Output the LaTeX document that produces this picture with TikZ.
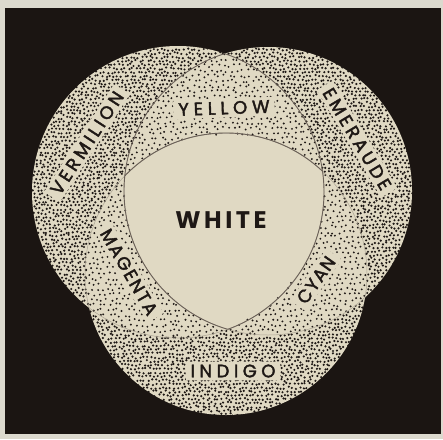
\documentclass[tikz,border=0pt]{standalone}
\usepackage{fontspec}
\setmainfont{Poppins}
\definecolor{frame}{HTML}{DCD9CE}
\definecolor{night}{HTML}{1B1512}
\definecolor{paper}{HTML}{E0D9C3}
\definecolor{ink}{HTML}{1E1815}
\definecolor{edge}{HTML}{6B6158}
\tikzset{
  lab/.style={font=\fontsize{18}{18}\selectfont, text=ink, fill=paper,
    inner xsep=5pt, inner ysep=3pt, rounded corners=2pt},
  bigtext/.style={font=\fontsize{24}{24}\selectfont\bfseries, text=ink},
  strongline/.style={draw=edge, line width=0.9pt},
  faintline/.style={draw=paper!55!edge, line width=0.5pt},
  dotmark/.style={fill=ink},
}
\newcommand\spaced[2]{{\addfontfeature{LetterSpace=#1,FakeBold=2.2}#2}}
\newcommand\spacedb[2]{{\addfontfeature{LetterSpace=#1}#2}}
\begin{document}
\begin{tikzpicture}[x=1pt,y=-1pt]
\useasboundingbox (0,0) rectangle (443,439);
\fill[frame] (0,0) rectangle (443,439);
\fill[night] (5,8) rectangle (441,434);
\coordinate (A) at (178,192);
\coordinate (B) at (268,191);
\coordinate (C) at (226,274);
\fill[paper] (A) circle[radius=146pt];
\fill[paper] (B) circle[radius=144pt];
\fill[paper] (C) circle[radius=141pt];
\pgfmathsetseed{7}
% dense stipple: regions covered by exactly one circle
\foreach \j in {0,...,99}{
  \pgfmathsetmacro\gy{42+3.8*\j}
  \pgfmathsetmacro\ra{2.1316-((\gy-192)/100)^2}
  \pgfmathsetmacro\rb{2.0736-((\gy-191)/100)^2}
  \pgfmathsetmacro\rc{1.9881-((\gy-274)/100)^2}
  \pgfmathsetmacro\sh{mod(\j,2)*1.9}
  \foreach \i in {0,...,104}{
    \pgfmathsetmacro\gx{28+3.8*\i+\sh}
    \pgfmathtruncatemacro\cnt{(((\gx-178)/100)^2<\ra)+(((\gx-268)/100)^2<\rb)+(((\gx-226)/100)^2<\rc)}
    \ifnum\cnt=1
      \fill[dotmark] (\gx+1.2*rand,\gy+1.2*rand) circle[radius=1.2pt];
    \fi
  }
}
% sparse stipple: regions covered by exactly two circles
\foreach \j in {0,...,57}{
  \pgfmathsetmacro\gy{50+5.2*\j}
  \pgfmathsetmacro\ra{2.1316-((\gy-192)/100)^2}
  \pgfmathsetmacro\rb{2.0736-((\gy-191)/100)^2}
  \pgfmathsetmacro\rc{1.9881-((\gy-274)/100)^2}
  \pgfmathsetmacro\sh{mod(\j,2)*2.6}
  \foreach \i in {0,...,58}{
    \pgfmathsetmacro\gx{76+5.2*\i+\sh}
    \pgfmathtruncatemacro\cnt{(((\gx-178)/100)^2<\ra)+(((\gx-268)/100)^2<\rb)+(((\gx-226)/100)^2<\rc)}
    \ifnum\cnt=2
      \fill[dotmark] (\gx+1.6*rand,\gy+1.6*rand) circle[radius=1.05pt];
    \fi
  }
}
% faint boundaries
\begin{scope}
  \clip (C) circle[radius=141pt];
  \draw[faintline] (A) circle[radius=146pt];
  \draw[faintline] (B) circle[radius=144pt];
\end{scope}
\begin{scope}
  \clip (A) circle[radius=146pt];
  \draw[faintline] (C) circle[radius=141pt];
\end{scope}
\begin{scope}
  \clip (B) circle[radius=144pt];
  \draw[faintline] (C) circle[radius=141pt];
\end{scope}
% strong boundaries
\begin{scope}
  \clip (B) circle[radius=144pt];
  \draw[strongline] (A) circle[radius=146pt];
\end{scope}
\begin{scope}
  \clip (A) circle[radius=146pt];
  \draw[strongline] (B) circle[radius=144pt];
\end{scope}
\begin{scope}
  \clip (A) circle[radius=146pt];
  \clip (B) circle[radius=144pt];
  \draw[strongline] (C) circle[radius=141pt];
\end{scope}
% labels
\node[lab, rotate=57] (verm) at (87,143) {\spaced{19}{VERMILION}};
\node[lab, rotate=2] (yell) at (224,108) {\spaced{27}{YELLOW}};
\node[lab, rotate=-59] (emer) at (357,139) {\spaced{19}{EMERAUDE}};
\node[bigtext] (white) at (221,220) {\spacedb{15}{WHITE}};
\node[lab, rotate=-60] (mage) at (129,272) {\spaced{10}{MAGENTA}};
\node[lab, rotate=55] (cyan) at (316,280) {\spaced{7}{CYAN}};
\node[lab] (indi) at (233,371) {\spaced{25}{INDIGO}};
\end{tikzpicture}
\end{document}
